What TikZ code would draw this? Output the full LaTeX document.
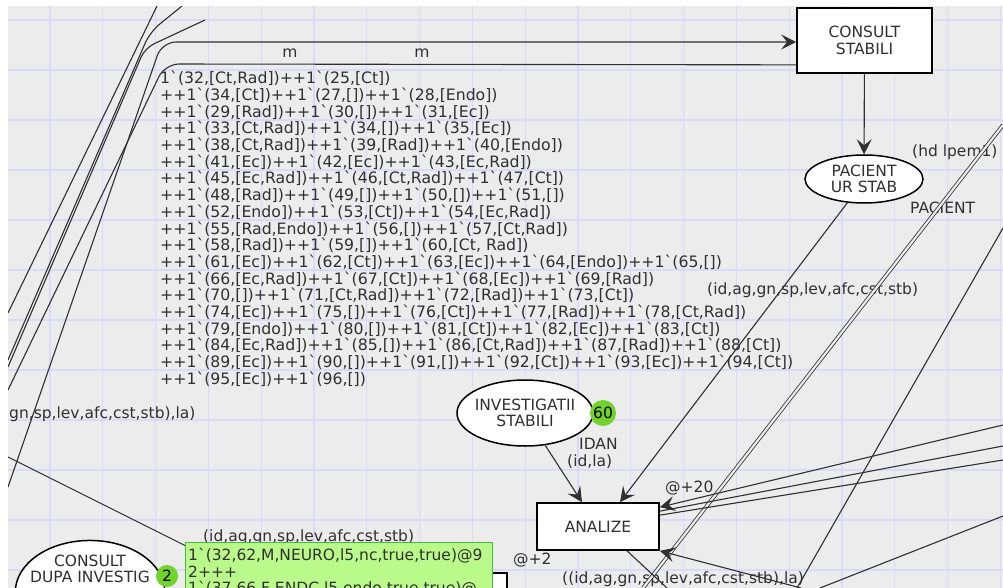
\documentclass[tikz,border=0pt]{standalone}
\usepackage{fontspec}
\setmainfont{DejaVu Sans}
\usetikzlibrary{arrows.meta, positioning, shapes.geometric}

\definecolor{canvas}{RGB}{236,236,236}
\definecolor{gridblue}{RGB}{218,218,248}
\definecolor{inkgray}{RGB}{48,48,48}
\definecolor{tokengreen}{RGB}{112,212,44}
\definecolor{tipgreen}{RGB}{186,250,138}

\newcommand{\grv}{\textasciigrave}

\begin{document}
\begin{tikzpicture}[
  x=1pt, y=-1pt,
  every node/.style={font=\fontsize{15.5}{16.7}\selectfont, text=inkgray},
  trans/.style={draw=black, line width=1.7pt, fill=white, rectangle, align=center, inner sep=0pt},
  place/.style={draw=black, line width=1.5pt, fill=white, ellipse, align=center, inner xsep=-7pt, inner ysep=-1pt},
  token/.style={circle, fill=tokengreen, inner sep=0pt, text=black},
  inscr/.style={anchor=west, inner sep=0pt},
  arc/.style={draw=inkgray, line width=1.1pt},
  arrow/.style={arc, -{Stealth[length=15pt, width=15pt, inset=6pt]}},
  gridline/.style={draw=gridblue, line width=1.2pt}
]

% canvas and grid
\clip (0,0) rectangle (1003,588);
\fill[white] (0,0) rectangle (1003,588);
\fill[canvas] (8,6) rectangle (1003,588);
\foreach \i in {0,...,18}
  \draw[gridline] ({50+52.8*\i},6) -- ({50+52.8*\i},588);
\foreach \j in {0,...,11}
  \draw[gridline] (8,{20+50*\j}) -- (1003,{20+50*\j});

% Transitions
\node[trans, minimum width=135pt, minimum height=65pt] (stabili) at (864.5,40.5) {CONSULT\\STABILI};
\node[trans, minimum width=122pt, minimum height=47pt] (analize) at (598,526.5) {ANALIZE};
\node[trans, minimum width=318pt, minimum height=70pt, anchor=north east] (hidden) at (508,572) {};

% Places
\node[place, minimum width=118pt, minimum height=48pt] (urstab) at (864,179) {PACIENT\\UR STAB};
\node[place, minimum width=136pt, minimum height=66pt] (investig) at (525,413) {INVESTIGATII\\STABILI};
\node[place, minimum width=146pt, minimum height=100pt] (dupa) at (90,592) {CONSULT\\DUPA INVESTIG\\[30pt]};

% Inscriptions
\node[inscr, anchor=center] (m1) at (290,53) {m};
\node[inscr, anchor=center] (m2) at (422,53) {m};
\node[inscr, anchor=north west, align=left, font=\fontsize{15.7}{16.7}\selectfont] (marking) at (160,71) {%
1\grv(32,[Ct,Rad])++1\grv(25,[Ct])\\
++1\grv(34,[Ct])++1\grv(27,[])++1\grv(28,[Endo])\\
++1\grv(29,[Rad])++1\grv(30,[])++1\grv(31,[Ec])\\
++1\grv(33,[Ct,Rad])++1\grv(34,[])++1\grv(35,[Ec])\\
++1\grv(38,[Ct,Rad])++1\grv(39,[Rad])++1\grv(40,[Endo])\\
++1\grv(41,[Ec])++1\grv(42,[Ec])++1\grv(43,[Ec,Rad])\\
++1\grv(45,[Ec,Rad])++1\grv(46,[Ct,Rad])++1\grv(47,[Ct])\\
++1\grv(48,[Rad])++1\grv(49,[])++1\grv(50,[])++1\grv(51,[])\\
++1\grv(52,[Endo])++1\grv(53,[Ct])++1\grv(54,[Ec,Rad])\\
++1\grv(55,[Rad,Endo])++1\grv(56,[])++1\grv(57,[Ct,Rad])\\
++1\grv(58,[Rad])++1\grv(59,[])++1\grv(60,[Ct, Rad])\\
++1\grv(61,[Ec])++1\grv(62,[Ct])++1\grv(63,[Ec])++1\grv(64,[Endo])++1\grv(65,[])\\
++1\grv(66,[Ec,Rad])++1\grv(67,[Ct])++1\grv(68,[Ec])++1\grv(69,[Rad])\\
++1\grv(70,[])++1\grv(71,[Ct,Rad])++1\grv(72,[Rad])++1\grv(73,[Ct])\\
++1\grv(74,[Ec])++1\grv(75,[])++1\grv(76,[Ct])++1\grv(77,[Rad])++1\grv(78,[Ct,Rad])\\
++1\grv(79,[Endo])++1\grv(80,[])++1\grv(81,[Ct])++1\grv(82,[Ec])++1\grv(83,[Ct])\\
++1\grv(84,[Ec,Rad])++1\grv(85,[])++1\grv(86,[Ct,Rad])++1\grv(87,[Rad])++1\grv(88,[Ct])\\
++1\grv(89,[Ec])++1\grv(90,[])++1\grv(91,[])++1\grv(92,[Ct])++1\grv(93,[Ec])++1\grv(94,[Ct])\\
++1\grv(95,[Ec])++1\grv(96,[])};
\node[inscr] (hdlpem) at (912,152) {(hd lpem1)};
\node[inscr] (pacient) at (910,208) {PACIENT};
\node[inscr] (tuple) at (707,290) {(id,ag,gn,sp,lev,afc,cst,stb)};
\node[inscr] (idan) at (579,444) {IDAN};
\node[inscr] (idla) at (567,462) {(id,la)};
\node[inscr] (delay20) at (665,488) {@+20};
\node[inscr] (delay2) at (513,560) {@+2};
\node[inscr] (tuplela) at (562,579) {((id,ag,gn,sp,lev,afc,cst,stb),la)};
\node[inscr] (tuplecut) at (9,414) {gn,sp,lev,afc,cst,stb),la)};
\node[inscr] (tuplelow) at (203,537) {(id,ag,gn,sp,lev,afc,cst,stb)};

% Arcs
\draw[arrow, rounded corners=14pt] (8,487) -- (162,42) -- ([yshift=-1.5pt]stabili.west);
\draw[arc, rounded corners=14pt] ([yshift=9pt]stabili.south west) -- (165,64) -- (8,390);
\draw[arc] (157,6) -- (8,313);
\draw[arc, rounded corners=12pt] (182,6) -- (150,32) -- (8,360);
\draw[arc, rounded corners=10pt] (205,20) -- (145,48) -- (8,367);
\draw[arrow] (stabili) -- (urstab);
\draw[arrow] (urstab.-125) -- ([xshift=22pt]analize.north);
\draw[arrow] (investig.-58) -- ([xshift=-16pt]analize.north);
\draw[arc, double=canvas, double distance=2.2pt, line width=0.8pt] (1003,125) -- (643,588);
\draw[arc] (1003,228) -- (797,588);
\draw[arrow] (1003,425) -- ([yshift=-5pt]analize.north east);
\draw[arc] (1003,446) -- ([yshift=-9pt]analize.north east);
\draw[arc] (1003,460) -- ([yshift=-13pt]analize.north east);
\draw[arc] (1003,516) -- (820,588);
\draw[arrow] (801,588) -- (analize.south east);
\draw[arc] ([xshift=29pt]analize.south) -- (667,588);
\coordinate (tipcorner) at (186,546);
\draw[arc] (8,457) -- (tipcorner);
\draw[arc, line width=1.7pt] (dupa.east) -- (hidden.west |- dupa.east);

% Tokens and tooltip
\node[token, minimum size=26pt] (tok60) at (603,413) {60};
\node[token, minimum size=22pt] (tok2) at (167,576) {2};
\node[draw=green!45!gray, fill=tipgreen, anchor=north west, align=left, text width=301pt,
  minimum height=60pt, inner xsep=3pt, inner ysep=2pt, text=inkgray] (tooltip) at (185,542)
  {1\grv(32,62,M,NEURO,l5,nc,true,true)@9\\2+++\\1\grv(37,66,F,ENDC,l5,endo,true,true)@};

% white margins
\fill[white] (0,0) rectangle (1003,6);
\fill[white] (0,0) rectangle (8,588);
\end{tikzpicture}
\end{document}
